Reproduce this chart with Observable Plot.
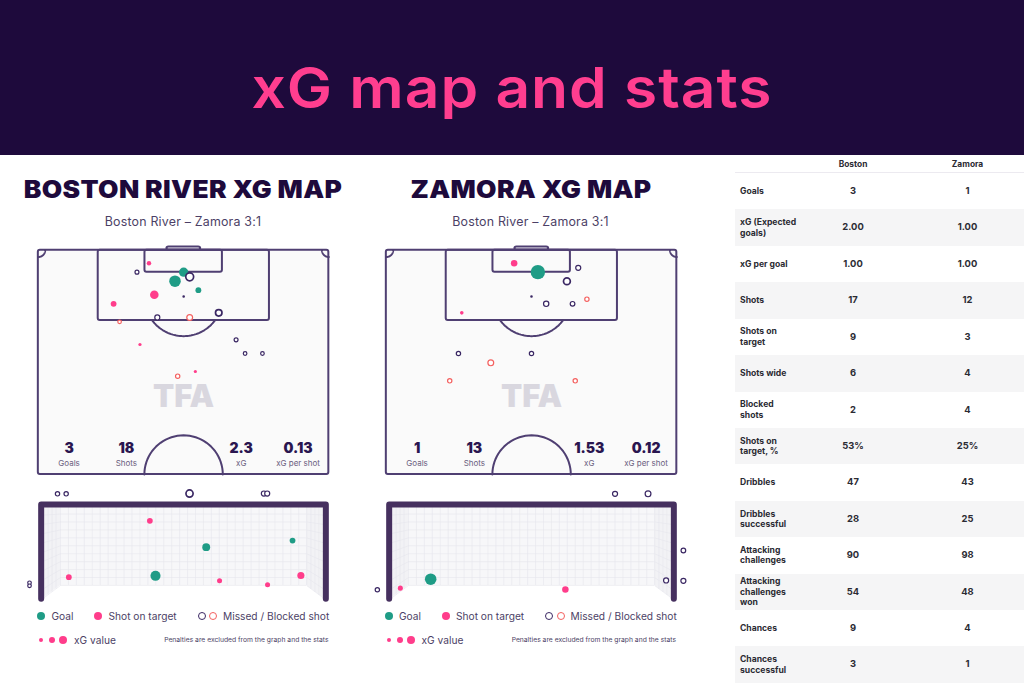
<!DOCTYPE html>
<html><head><meta charset="utf-8">
<script src="https://cdn.jsdelivr.net/npm/d3@7"></script>
<script src="https://cdn.jsdelivr.net/npm/@observablehq/plot@0.6"></script>
<style>
html,body{margin:0;padding:0;background:#fff;width:1024px;height:683px;overflow:hidden;font-family:Inter,sans-serif}
#page{position:relative;width:1024px;height:683px;overflow:hidden}
#head{position:absolute;left:0;top:0;width:1024px;height:155px;background:#1e0a3c}
#head span{display:block;color:#ff3e8f;text-align:center;font:600 56px/176px Inter,sans-serif;letter-spacing:.9px;white-space:nowrap;transform:scaleX(1.08)}
.abs{position:absolute;white-space:nowrap}
.ttl{width:340px;text-align:center;font:900 24px/28px Inter,sans-serif;color:#1e0a3c;letter-spacing:.3px;top:175.5px;transform:scaleX(1.1)}
.sub{width:340px;text-align:center;font:400 12.4px/16px Inter,sans-serif;color:#4c3f66;top:214px;letter-spacing:.2px}
.plot{position:absolute}
.lg{font:400 10.2px/14px Inter,sans-serif;color:#4c3f66}
.note{font:400 6.75px/10px Inter,sans-serif;color:#4c3f66;text-align:right}
.c{position:absolute;border-radius:50%;box-sizing:border-box}
#tbl{position:absolute;left:735px;top:157px;width:289px;border-collapse:collapse;table-layout:fixed;font:700 8.6px/10.4px Inter,"Liberation Sans",sans-serif;color:#2b2b33}
#tbl th{height:15px;padding:0;font-weight:700;font-size:8.4px;border-bottom:1px solid #eceaf0;text-align:center}
#tbl td{height:36.43px;padding:0;text-align:center;font-size:9.4px}
#tbl td:first-child{text-align:left;padding-left:5px;white-space:pre-line;font-size:8.6px}
#tbl td:last-child,#tbl th:last-child{padding-left:24px}
#tbl tr:nth-child(even) td{background:#f5f5f6}
#tbl tbody tr:last-child td{border-bottom:1px solid #d9d9de}
</style></head>
<body><div id="page"><div id="head"><span>xG map and stats</span></div></div>
<script>
// ---------- data ----------
const bostonShotKind = ["target","missed","goal","missed","goal","goal","target","missed","target","missed","wide","missed","wide","target","missed","missed","missed","target","wide"];
const bostonShotX = [25.9,23.09,34.02,35.43,31.99,37.46,27.15,34.02,17.62,27.85,35.43,42.23,19.02,23.79,46.29,48.40,52.46,36.76,32.62];
const bostonShotY = [3.05,5.16,5.16,6.25,7.27,9.38,10.47,10.86,12.58,15.78,15.78,14.69,16.80,22.11,21.02,24.22,24.22,28.44,29.53];
const bostonShotXg = [.07,.055,.31,.22,.47,.12,.26,.007,.12,.09,.12,.15,.046,.037,.055,.046,.046,.037,.066];

const zamoraShotKind = ["target","goal","missed","missed","missed","missed","missed","wide","target","missed","missed","wide","wide","wide"];
const zamoraShotX = [29.92,35.47,44.92,42.27,33.98,37.42,43.59,46.95,17.66,16.88,33.98,24.45,14.84,44.22];
const zamoraShotY = [3.05,5.16,4.14,7.27,10.86,12.58,12.58,11.48,14.69,24.22,24.22,26.41,30.63,30.63];
const zamoraShotXg = [.15,.73,.09,.165,.007,.10,.077,.066,.046,.066,.066,.12,.066,.066];

const bostonGoalKind = ["goal","goal","goal","target","target","target","target","target","missed","missed","missed","missed","missed","missed","missed"];
const bostonGoalX = [2.955,4.232,6.406,2.813,.772,4.568,5.777,6.616,.487,.705,3.812,5.684,5.768,-.218,-.218];
const bostonGoalY = [.579,1.301,1.469,1.965,.546,.453,.353,.588,2.645,2.645,2.653,2.653,2.653,.403,.327];
const bostonGoalXg = [.36,.22,.117,.117,.117,.09,.09,.18,.066,.066,.18,.09,.09,.046,.046];

const zamoraGoalKind = ["goal","target","target","missed","missed","missed","missed","missed","missed"];
const zamoraGoalX = [1.121,.357,4.513,5.764,6.595,7.485,7.05,7.485,-.222];
const zamoraGoalY = [.495,.269,.235,2.645,2.645,1.217,.462,.453,.227];
const zamoraGoalXg = [.47,.09,.15,.09,.12,.077,.09,.09,.066];

const statLabels = ["Goals","Shots","xG","xG per shot"];
const bostonStats = ["3","18","2.3","0.13"];
const zamoraStats = ["1","13","1.53","0.12"];

const tableTeams = ["Boston","Zamora"];
const tableLabels = ["Goals","xG (Expected\ngoals)","xG per goal","Shots","Shots on\ntarget","Shots wide","Blocked\nshots","Shots on\ntarget, %","Dribbles","Dribbles\nsuccessful","Attacking\nchallenges","Attacking\nchallenges\nwon","Chances","Chances\nsuccessful"];
const tableBoston = ["3","2.00","1.00","17","9","6","2","53%","47","28","90","54","9","3"];
const tableZamora = ["1","1.00","1.00","12","3","4","4","25%","43","25","98","48","4","1"];

// ---------- styles ----------
const INK="#4f3f72", FRAME="#46305f", GOAL="#1f9c86", PINK="#ff3d8b", DARK="#3a2763", RED="#f4605f";
const kindFill = k => k==="goal"?GOAL : k==="target"?PINK : "#fff";
const kindStroke = k => k==="goal"?GOAL : k==="target"?PINK : k==="wide"?RED : DARK;
const rows = (k,x,y,v)=>k.map((kind,i)=>({kind,x:x[i],y:y[i],xg:v[i]}));
const rScale = {type:"sqrt",domain:[0,1],range:[0,8.4]};
const dots = data => Plot.dot(data,{x:"x",y:"y",r:"xg",fill:d=>kindFill(d.kind),stroke:d=>kindStroke(d.kind),strokeWidth:d=>d.kind==="goal"||d.kind==="target"?0:(d.xg>.13?1.7:1.2)});

// ---------- pitch geometry in metres ----------
const W=68,H=52.58;
const arc=(cx,cy,r,a0,a1)=>d3.range(a0,a1+1e-6,(a1-a0)/40).map(a=>({x:cx+r*Math.cos(a),y:cy+r*Math.sin(a)}));
const penA=Math.asin(5.5/9.15);
function pitch(shots,stats){
  const line={stroke:INK,strokeWidth:2,fill:"none",rx:2};
  const lineOpts={x:"x",y:"y",stroke:INK,strokeWidth:2};
  const vx=[7.2,20.6,47.5,60.8];
  return Plot.plot({width:350,height:240,margin:0,
    x:{domain:[0,W],range:[37.83,328.33],axis:null},
    y:{domain:[0,H],range:[9.67,234],axis:null},
    r:rScale,style:{background:"transparent",overflow:"visible"},
    marks:[
      Plot.rect([{}],{x1:0,x2:W,y1:0,y2:H,fill:"#fafafa",stroke:INK,strokeWidth:2,rx:2}),
      Plot.rect([{}],{x1:30.1,x2:38,y1:-.75,y2:0,...line}),
      Plot.rect([{}],{x1:14.02,x2:54.1,y1:0,y2:16.5,...line}),
      Plot.rect([{}],{x1:24.96,x2:43.09,y1:0,y2:5.16,...line}),
      Plot.line(arc(34,11,9.15,penA,Math.PI-penA),lineOpts),
      Plot.line(arc(34,H,9.18,Math.PI,2*Math.PI),lineOpts),
      Plot.line(arc(0,0,1.6,0,Math.PI/2),lineOpts),
      Plot.line(arc(W,0,1.6,Math.PI/2,Math.PI),lineOpts),
      Plot.text(["TFA"],{x:34,y:34.4,text:d=>d,fontSize:31,fontWeight:900,fill:"#d9d7df",fontFamily:"Inter",letterSpacing:"-1px"}),
      Plot.text(stats,{x:(d,i)=>vx[i],y:46.6,text:d=>d,fontSize:14,fontWeight:900,fill:"#2a1650",fontFamily:"Inter"}),
      Plot.text(statLabels,{x:(d,i)=>vx[i],y:49.9,text:d=>d,fontSize:8,fill:"#6b6080",fontFamily:"Inter"}),
      dots(shots)
    ]});
}

// ---------- goal geometry in metres ----------
const GW=7.32,GH=2.452,BX=.5626,BY=.336,TOP=2.3,POST=.15;
const sideY=y=>TOP-(TOP-y)*(TOP-.03)/(TOP-BY);
const gridYs=d3.range(BY,TOP,.2), gridXs=d3.range(BX,GW-BX+.01,.2), sideXs=[.25,.35,.45];
function goalPlot(shots){
  const g={stroke:"#e5e5ec",strokeWidth:.6};
  const sideLink=gridYs.flatMap(y=>[{x1:POST,x2:BX,y1:sideY(y),y2:y},{x1:GW-POST,x2:GW-BX,y1:sideY(y),y2:y}]);
  const sideV=sideXs.flatMap(x=>{const t=(x-POST)/(BX-POST),y=.03+t*(BY-.03);return [{x1:x,x2:x,y1:y,y2:TOP},{x1:GW-x,x2:GW-x,y1:y,y2:TOP}];});
  const sideFill=(a,b)=>[{x:a,y1:.03,y2:TOP},{x:b,y1:BY,y2:TOP}];
  return Plot.plot({width:350,height:125,margin:0,
    x:{domain:[0,GW],range:[37.67,328.33],axis:null},
    y:{domain:[0,GH],range:[118.3,21],axis:null},
    r:rScale,style:{background:"transparent",overflow:"visible"},
    marks:[
      Plot.rect([{}],{x1:BX,x2:GW-BX,y1:BY,y2:TOP+.05,fill:"#f7f7f9"}),
      Plot.areaY(sideFill(POST,BX),{x:"x",y1:"y1",y2:"y2",fill:"#f2f2f5"}),
      Plot.areaY(sideFill(GW-POST,GW-BX),{x:"x",y1:"y1",y2:"y2",fill:"#f2f2f5"}),
      Plot.ruleX(gridXs,{y1:BY,y2:TOP+.05,...g}),
      Plot.ruleY(gridYs,{x1:BX,x2:GW-BX,...g}),
      Plot.link(sideLink,{x1:"x1",x2:"x2",y1:"y1",y2:"y2",...g}),
      Plot.link(sideV,{x1:"x1",x2:"x2",y1:"y1",y2:"y2",...g}),
      Plot.line([{x:.0755,y:0},{x:.0755,y:GH-.0755},{x:GW-.0755,y:GH-.0755},{x:GW-.0755,y:0}],{x:"x",y:"y",stroke:FRAME,strokeWidth:6,strokeLinejoin:"round"}),
      dots(shots)
    ]});
}

// ---------- layout ----------
const page=document.getElementById("page");
function place(node,left,top){node.classList.add("plot");node.style.left=left+"px";node.style.top=top+"px";page.append(node);}
function el(cls,text,css){const d=document.createElement("div");d.className=cls;d.textContent=text;Object.assign(d.style,css);page.append(d);return d;}
function circle(cx,cy,r,fill,stroke){const d=document.createElement("div");d.className="c";Object.assign(d.style,{left:(cx-r)+"px",top:(cy-r)+"px",width:2*r+"px",height:2*r+"px",background:fill,border:stroke?`1.8px solid ${stroke}`:"none"});page.append(d);}
function legend(o){
  circle(o+41,616,4,GOAL);   el("abs lg","Goal",{left:o+51.5+"px",top:"609px"});
  circle(o+98.3,616,4,PINK); el("abs lg","Shot on target",{left:o+108.5+"px",top:"609px"});
  circle(o+201.7,616,4,"#fff",DARK); circle(o+213,616,4,"#fff",RED);
  el("abs lg","Missed / Blocked shot",{left:o+223+"px",top:"609px"});
  circle(o+41.3,640,2,PINK); circle(o+52,640,3,PINK); circle(o+63.3,640,4,PINK);
  el("abs lg","xG value",{left:o+74+"px",top:"633px"});
  el("abs note","Penalties are excluded from the graph and the stats",{left:o+128+"px",width:"200.5px",top:"635px"});
}
function panel(o,title,shots,stats,goalShots){
  el("abs ttl",title,{left:o+13+"px"});
  el("abs sub","Boston River – Zamora 3:1",{left:o+13+"px"});
  place(pitch(shots,stats),o,240);
  place(goalPlot(goalShots),o,480);
  legend(o);
}
panel(0,"BOSTON RIVER XG MAP",rows(bostonShotKind,bostonShotX,bostonShotY,bostonShotXg),bostonStats,rows(bostonGoalKind,bostonGoalX,bostonGoalY,bostonGoalXg));
panel(347.5,"ZAMORA XG MAP",rows(zamoraShotKind,zamoraShotX,zamoraShotY,zamoraShotXg),zamoraStats,rows(zamoraGoalKind,zamoraGoalX,zamoraGoalY,zamoraGoalXg));

// ---------- table ----------
const t=document.createElement("table");t.id="tbl";
const cg=document.createElement("colgroup");["84px","68px","137px"].forEach(w=>{const c=document.createElement("col");c.style.width=w;cg.append(c);});t.append(cg);
const th=t.createTHead().insertRow();["",...tableTeams].forEach(s=>{const c=document.createElement("th");c.textContent=s;th.append(c);});
const tb=t.createTBody();
tableLabels.forEach((l,i)=>{const r=tb.insertRow();[l,tableBoston[i],tableZamora[i]].forEach(s=>{r.insertCell().textContent=s;});});
page.append(t);
</script></body></html>
